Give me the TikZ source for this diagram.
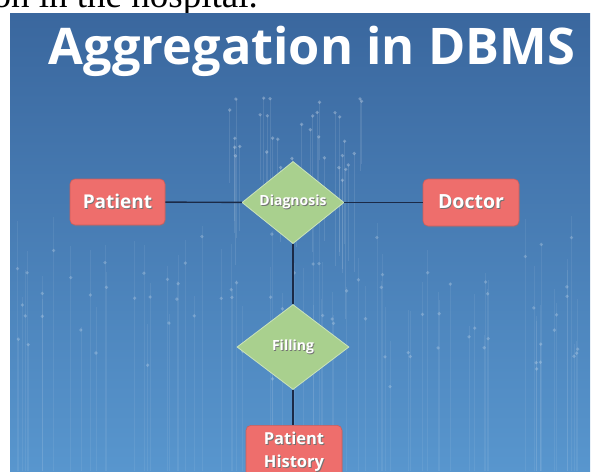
\documentclass[tikz,border=0pt]{standalone}
\usepackage{fontspec}
\setmainfont{Liberation Serif}
\setsansfont{Open Sans}
\usetikzlibrary{positioning,shapes.geometric,shadows}
\definecolor{entity}{HTML}{EE6E6C}
\definecolor{relship}{HTML}{A9D08E}
\definecolor{link}{HTML}{1B2A47}
\definecolor{paneltop}{HTML}{3A679E}
\definecolor{panelbot}{HTML}{5896CE}
% white label with a soft dark copy underneath
\newcommand\shadetext[1]{\rlap{\color{black!55}\kern.9pt\raisebox{-1.1pt}{#1}}#1}

\begin{document}
\begin{tikzpicture}[x=1pt,y=-1pt,
  entitybox/.style={rectangle,rounded corners=5pt,fill=entity,draw=entity!85!black,line width=.6pt,
    text=white,font=\sffamily\bfseries,inner sep=0pt,
    drop shadow={opacity=.25,shadow xshift=1pt,shadow yshift=-1.5pt}},
  relbox/.style={diamond,fill=relship,draw=relship!60!white,line width=.8pt,
    text=white,font=\sffamily\bfseries,inner sep=0pt},
  conn/.style={draw=link,line width=1.4pt}]
\useasboundingbox (0,0) rectangle (596,471);
\clip (0,0) rectangle (596,471);
\node[anchor=base east,font=\fontsize{37}{40}\selectfont,inner sep=0pt] (caption) at (258,7) {on in the hospital.};
\shade[top color=paneltop,bottom color=panelbot] (10,13) rectangle (590,471);
% falling data streaks
\pgfmathsetseed{11}
\foreach \i in {1,...,34}{
  \pgfmathsetmacro\sx{293+rand*75} \pgfmathsetmacro\sy{95+rnd*90} \pgfmathsetmacro\sl{50+rnd*110}
  \draw[white,opacity=.10,line width=.7pt] (\sx,\sy)--(\sx,\sy+\sl);
  \fill[white,opacity=.28] (\sx,\sy) circle (1.8);
}
\foreach \i in {1,...,80}{
  \pgfmathsetmacro\sx{300+rand*285} \pgfmathsetmacro\sy{215+rnd*130}
  \draw[white,opacity=.07,line width=.7pt] (\sx,\sy)--(\sx,471);
  \fill[white,opacity=.22] (\sx,\sy+rnd*60) circle (1.8);
}
\node[text=white,font=\sffamily\bfseries\fontsize{50.5}{52}\selectfont,anchor=base,inner sep=0pt] (title) at (312,64) {Aggregation in DBMS};
% entities and relationships
\node[entitybox,minimum width=95pt,minimum height=46pt,font=\sffamily\bfseries\fontsize{19}{22}\selectfont] (patient) at (117.5,202) {\shadetext{Patient}};
\node[entitybox,minimum width=96pt,minimum height=47pt,font=\sffamily\bfseries\fontsize{19.5}{22}\selectfont] (doctor) at (471,202.5) {\shadetext{Doctor}};
\node[relbox,minimum width=102pt,minimum height=79pt,font=\sffamily\bfseries\fontsize{14}{16}\selectfont] (diagnosis) at (293,202.5) {\shadetext{Diagnosis}};
\node[relbox,minimum width=112pt,minimum height=85pt,font=\sffamily\bfseries\fontsize{14}{16}\selectfont] (filling) at (293,347) {\shadetext{Filling}};
\node[entitybox,minimum width=96pt,minimum height=54pt,font=\sffamily\bfseries\fontsize{16.5}{23}\selectfont,align=center,anchor=north] (history) at (294,425) {\shadetext{Patient}\\\shadetext{History}};
\draw[conn] (patient) -- (diagnosis);
\draw[conn] (diagnosis) -- (doctor);
\draw[conn] (diagnosis) -- (filling);
\draw[conn] (filling) -- (filling |- history.north);
\end{tikzpicture}
\end{document}
